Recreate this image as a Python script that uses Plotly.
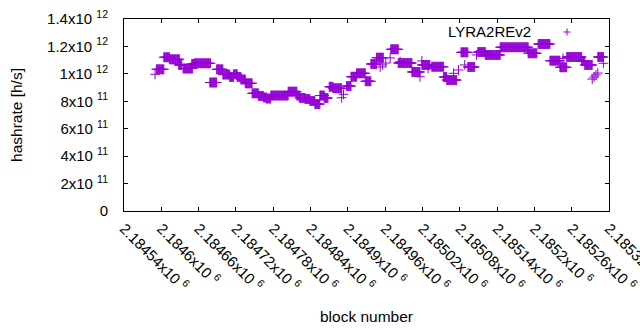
import plotly.graph_objects as go

# ---- data (block number, hashrate in h/s) ----
# runs of consecutive blocks sharing the same hashrate estimate
run_start = [2184592, 2184604, 2184613, 2184628, 2184635, 2184649, 2184653, 2184678, 2184689, 2184699,
             2184710, 2184716, 2184722, 2184728, 2184735, 2184746, 2184756, 2184764, 2184769, 2184776,
             2184804, 2184818, 2184822, 2184831, 2184839, 2184847, 2184855, 2184862, 2184870, 2184876,
             2184898, 2184905, 2184914, 2184928, 2184937, 2184946, 2184969, 2184981, 2185003, 2185019,
             2185035, 2185054, 2185059, 2185082, 2185093, 2185109, 2185121, 2185145, 2185190, 2185206,
             2185225, 2185241, 2185252, 2185276, 2185281, 2185302]
run_end = [2184604, 2184613, 2184629, 2184633, 2184650, 2184653, 2184679, 2184689, 2184699, 2184710,
           2184716, 2184722, 2184728, 2184735, 2184746, 2184756, 2184764, 2184769, 2184776, 2184804,
           2184818, 2184822, 2184831, 2184839, 2184847, 2184855, 2184862, 2184868, 2184876, 2184890,
           2184905, 2184914, 2184928, 2184937, 2184946, 2184957, 2184981, 2185003, 2185016, 2185032,
           2185054, 2185059, 2185075, 2185093, 2185104, 2185121, 2185145, 2185190, 2185204, 2185225,
           2185241, 2185252, 2185276, 2185281, 2185293, 2185311]
run_value = [1.033e12, 1.121e12, 1.106e12, 1.065e12, 1.039e12, 1.072e12, 1.077e12, 0.937e12, 1.033e12, 0.995e12,
             0.977e12, 0.997e12, 0.977e12, 0.959e12, 0.931e12, 0.858e12, 0.839e12, 0.828e12, 0.820e12, 0.842e12,
             0.870e12, 0.842e12, 0.825e12, 0.817e12, 0.802e12, 0.780e12, 0.842e12, 0.824e12, 0.906e12, 0.895e12,
             0.911e12, 0.979e12, 1.004e12, 0.946e12, 1.072e12, 1.118e12, 1.179e12, 1.079e12, 1.014e12, 1.065e12,
             1.052e12, 0.977e12, 0.955e12, 1.157e12, 1.050e12, 1.159e12, 1.138e12, 1.194e12, 1.150e12, 1.218e12,
             1.096e12, 1.048e12, 1.123e12, 1.094e12, 1.065e12, 1.123e12]

# isolated blocks
pt_block = [2184590, 2184890, 2184893, 2184952, 2184956, 2184961, 2184968, 2184984, 2185016, 2185019,
            2185029, 2185070, 2185078, 2185088, 2185107, 2185190, 2185246, 2185293, 2185296, 2185299,
            2185302, 2185311]
pt_value = [0.997e12, 0.826e12, 0.851e12, 1.050e12, 1.065e12, 1.079e12, 1.116e12, 1.089e12, 0.979e12, 1.094e12,
            1.040e12, 1.004e12, 1.028e12, 1.065e12, 1.138e12, 1.169e12, 1.113e12, 0.962e12, 0.977e12, 0.992e12,
            1.006e12, 1.077e12]

x_tick_vals = [2184540, 2184600, 2184660, 2184720, 2184780, 2184840, 2184900,
               2184960, 2185020, 2185080, 2185140, 2185200, 2185260, 2185320]
x_tick_text = ["2.18454", "2.1846", "2.18466", "2.18472", "2.18478", "2.18484", "2.1849",
               "2.18496", "2.18502", "2.18508", "2.18514", "2.1852", "2.18526", "2.18532"]
y_tick_vals = [0, 2e11, 4e11, 6e11, 8e11, 1e12, 1.2e12, 1.4e12]
y_tick_text = ["0", "2x10 <sup>11</sup>", "4x10 <sup>11</sup>", "6x10 <sup>11</sup>", "8x10 <sup>11</sup>",
               "1x10 <sup>12</sup>", "1.2x10 <sup>12</sup>", "1.4x10 <sup>12</sup>"]
series_name = "LYRA2REv2"

# ---- build per-block series ----
xs, ys = [], []
for s, e, v in zip(run_start, run_end, run_value):
    for b in range(s, e + 1):
        xs.append(b)
        ys.append(v)
xs += pt_block
ys += pt_value

COLOR = "#9400D3"
FONT = "Liberation Sans, Arial, sans-serif"

fig = go.Figure()
fig.add_trace(go.Scatter(
    x=xs, y=ys, mode="markers", name=series_name, showlegend=False,
    marker=dict(symbol="cross-thin", size=7, line=dict(color=COLOR, width=1), color=COLOR),
))

axis_common = dict(
    showline=True, linecolor="black", linewidth=1, mirror="allticks",
    ticks="inside", ticklen=4, tickcolor="black", tickwidth=1,
    showgrid=False, zeroline=False,
    tickfont=dict(family=FONT, size=15, color="black"),
)

fig.update_xaxes(
    range=[2184540, 2185320], tickmode="array", tickvals=x_tick_vals,
    ticktext=[t + "x10 <sup>6</sup>" for t in x_tick_text], tickangle=45,
    ticklabelstandoff=2, ticklabeloverflow="allow",
    title=dict(text="block number", font=dict(family=FONT, size=15.5, color="black"), standoff=17),
    automargin=False, **axis_common,
)
fig.update_yaxes(
    range=[0, 1.4e12], tickmode="array", tickvals=y_tick_vals, ticktext=y_tick_text,
    ticklabelstandoff=12,
    title=dict(text="hashrate [h/s]", font=dict(family=FONT, size=15.5, color="black"), standoff=20),
    automargin=False, **axis_common,
)

fig.add_annotation(
    x=(533 - 124) / 485, y=(211 - 31) / 192, xref="paper", yref="paper",
    text=series_name, showarrow=False, xanchor="right", yanchor="middle",
    font=dict(family=FONT, size=15, color="black"),
)
fig.add_shape(
    type="path", xref="x domain", yref="y domain", xsizemode="pixel", ysizemode="pixel",
    xanchor=(567 - 124) / 485, yanchor=(211 - 32) / 192,
    path="M-3.5,0 L3.5,0 M0,-3.5 L0,3.5", line=dict(color=COLOR, width=1),
)

fig.update_layout(
    width=640, height=330,
    margin=dict(l=124, r=31, t=19, b=119, autoexpand=False),
    paper_bgcolor="white", plot_bgcolor="white",
    font=dict(family=FONT, size=15, color="black"),
)

# remove the page body's default margin so the figure sits at the window's corner
fig.write_html("out.html", config={"displayModeBar": False},
               post_script="document.body.style.margin='0px';")
